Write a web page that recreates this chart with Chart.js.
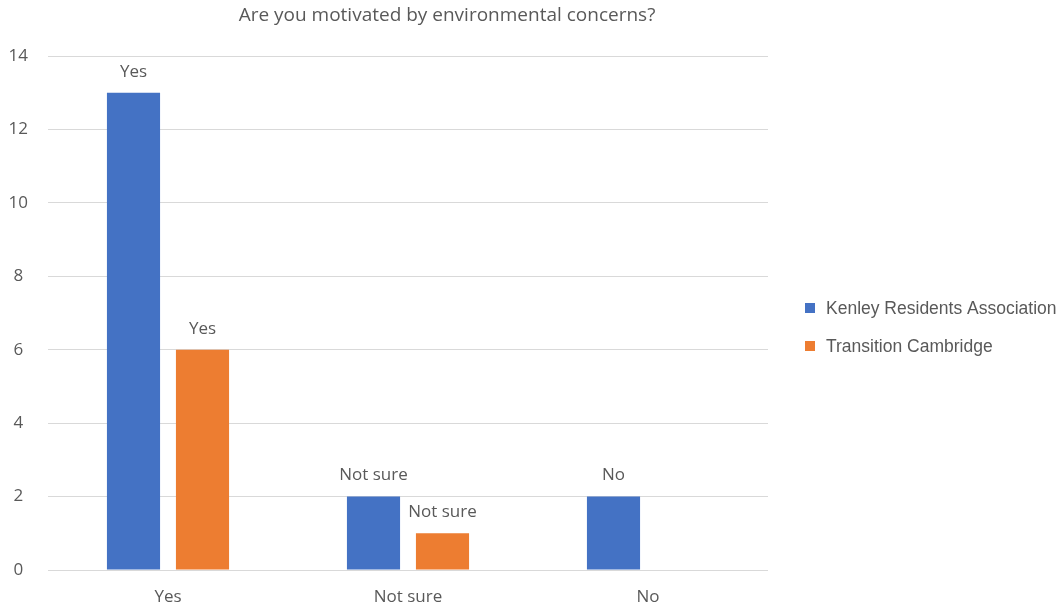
<!DOCTYPE html>
<html>
<head>
<meta charset="utf-8">
<script src="https://cdn.jsdelivr.net/npm/chart.js"></script>
<style>
  html, body { margin: 0; padding: 0; background: #fff; }
  #wrap { width: 1062px; height: 608px; }
</style>
</head>
<body>
<div id="wrap"><canvas id="surveyChart" width="1062" height="608"></canvas></div>
<script>
const categories = ['Yes', 'Not sure', 'No'];
const kenleyValues = [13, 2, 2];
const transitionValues = [6, 1, 0];
const seriesNames = ['Kenley Residents Association', 'Transition Cambridge'];
const seriesColors = ['#4472C4', '#ED7D31'];
const yTicks = [0, 2, 4, 6, 8, 10, 12, 14];
const chartTitle = 'Are you motivated by environmental concerns?';

const textColor = '#595959';
const mainFont = '"Open Sans", "DejaVu Sans", sans-serif';

// title is centred on the whole picture, not the plot, so draw it here
const topTitle = {
    id: 'topTitle',
    afterDraw(chart) {
        const ctx = chart.ctx;
        ctx.save();
        ctx.font = '19px ' + mainFont;
        ctx.fillStyle = textColor;
        ctx.textAlign = 'center';
        ctx.textBaseline = 'middle';
        ctx.fillText(chartTitle, 447, 16);
        ctx.restore();
    }
};

// labels above each bar show the category name
const barLabels = {
    id: 'barLabels',
    afterDatasetsDraw(chart) {
        const ctx = chart.ctx;
        ctx.save();
        ctx.font = '17px ' + mainFont;
        ctx.fillStyle = textColor;
        ctx.textAlign = 'center';
        ctx.textBaseline = 'middle';
        chart.data.datasets.forEach((ds, di) => {
            const meta = chart.getDatasetMeta(di);
            meta.data.forEach((bar, i) => {
                if (!ds.data[i]) return;
                ctx.fillText(categories[i], bar.x, bar.y - 21);
            });
        });
        ctx.restore();
    }
};

// legend on the right, drawn by hand so it sits where the original one does
const sideLegend = {
    id: 'sideLegend',
    afterDraw(chart) {
        const ctx = chart.ctx;
        ctx.save();
        ctx.font = '17.5px "Liberation Sans", Arial, sans-serif';
        ctx.textBaseline = 'middle';
        ctx.textAlign = 'left';
        seriesNames.forEach((name, i) => {
            const y = 308 + i * 38;
            ctx.fillStyle = seriesColors[i];
            ctx.fillRect(805, y - 5, 10, 10);
            ctx.fillStyle = textColor;
            ctx.fillText(name, 826, y + 1);
        });
        ctx.restore();
    }
};

const ctx = document.getElementById('surveyChart').getContext('2d');
const surveyChart = new Chart(ctx, {
    type: 'bar',
    data: {
        labels: categories,
        datasets: [{
            label: seriesNames[0],
            data: kenleyValues,
            backgroundColor: seriesColors[0]
        }, {
            label: seriesNames[1],
            data: transitionValues,
            backgroundColor: seriesColors[1]
        }]
    },
    options: {
        responsive: false,
        animation: false,
        layout: {
            padding: { left: 0, right: 294, top: 56, bottom: 0 }
        },
        datasets: {
            bar: {
                categoryPercentage: 0.575,
                barPercentage: 0.77
            }
        },
        plugins: {
            legend: { display: false },
            tooltip: { enabled: false },
            title: { display: false }
        },
        scales: {
            x: {
                grid: { display: false },
                border: { display: false },
                ticks: {
                    color: textColor,
                    font: { family: mainFont, size: 17 },
                    padding: 9
                },
                afterFit(scale) { scale.height = 38; }
            },
            y: {
                min: 0,
                max: 14,
                afterBuildTicks(scale) {
                    scale.ticks = yTicks.map(v => ({ value: v }));
                },
                grid: { color: '#d9d9d9', drawTicks: false, lineWidth: 1 },
                border: { display: false },
                ticks: {
                    color: textColor,
                    font: { family: mainFont, size: 17 },
                    crossAlign: 'center',
                    padding: 20
                },
                afterFit(scale) { scale.width = 48; }
            }
        }
    },
    plugins: [barLabels, sideLegend, topTitle]
});
</script>
</body>
</html>
